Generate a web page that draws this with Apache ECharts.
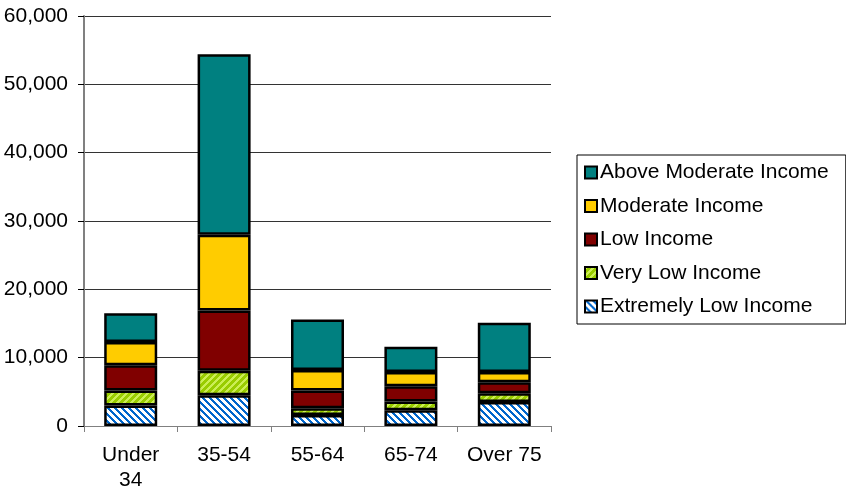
<!DOCTYPE html>
<html>
<head>
<meta charset="utf-8">
<script src="https://cdn.jsdelivr.net/npm/echarts@6/dist/echarts.min.js"></script>
<style>
  html, body { margin: 0; padding: 0; background: #fff; }
  #chart { width: 846px; height: 495px; }
</style>
</head>
<body>
<div id="chart"></div>
<script>
// Households by age of householder and income category
const categories = ['Under\n34', '35-54', '55-64', '65-74', 'Over 75'];
const extremelyLow = [3000, 4500, 1600, 2300, 3500];
const veryLow      = [2200, 3600, 1000, 1300, 1300];
const low          = [3700, 8800, 2600, 2200, 1600];
const moderate     = [3400, 11100, 3000, 2100, 1500];
const aboveModerate = [4200, 26400, 7400, 3700, 7200];
const yTicks = { min: 0, max: 60000, step: 10000 };

const FONT = 'Liberation Sans, Arial, sans-serif';

// Small repeating tile with diagonal stripes; dir 1 = "\", -1 = "/"
function stripeTile(bg, fg, size, width, dir) {
  const c = document.createElement('canvas');
  c.width = size; c.height = size;
  const ctx = c.getContext('2d');
  const img = ctx.createImageData(size, size);
  const parse = h => [parseInt(h.slice(1,3),16), parseInt(h.slice(3,5),16), parseInt(h.slice(5,7),16)];
  const b = parse(bg), f = parse(fg);
  for (let y = 0; y < size; y++) {
    for (let x = 0; x < size; x++) {
      const k = dir > 0 ? ((x - y) % size + size) % size : (x + y) % size;
      const col = k < width ? f : b;
      const i = (y * size + x) * 4;
      img.data[i] = col[0]; img.data[i+1] = col[1]; img.data[i+2] = col[2]; img.data[i+3] = 255;
    }
  }
  ctx.putImageData(img, 0, 0);
  return { image: c, repeat: 'repeat' };
}

const bluePattern = stripeTile('#ffffff', '#0066cc', 7, 3, 1);
const greenPattern = stripeTile('#99cc00', '#ccee55', 7, 3, -1);

const border = { borderColor: '#000000', borderWidth: 2.5 };
function series(name, data, color) {
  return {
    name: name,
    type: 'bar',
    stack: 'total',
    barWidth: 53,
    data: data,
    itemStyle: Object.assign({ color: color }, border),
    emphasis: { disabled: true }
  };
}

const chart = echarts.init(document.getElementById('chart'), null, { renderer: 'canvas' });
chart.setOption({
  animation: false,
  backgroundColor: '#ffffff',
  textStyle: { fontFamily: FONT, color: '#000' },
  grid: { left: 84, right: 295, top: 16, bottom: 69, containLabel: false },
  legend: {
    orient: 'vertical',
    left: 577,
    top: 155,
    padding: [7, 17, 7, 7],
    itemGap: 12.5,
    itemWidth: 12,
    itemHeight: 12,
    icon: 'rect',
    borderColor: '#000',
    borderWidth: 1,
    backgroundColor: '#fff',
    textStyle: { fontSize: 21, color: '#000', fontFamily: FONT, padding: [0, 0, 0, -2] },
    data: ['Above Moderate Income', 'Moderate Income', 'Low Income', 'Very Low Income', 'Extremely Low Income'],
    selectedMode: false
  },
  xAxis: {
    type: 'category',
    data: categories,
    axisLine: { lineStyle: { color: '#808080', width: 1 } },
    axisTick: { show: true, length: 6, lineStyle: { color: '#808080' } },
    axisLabel: { fontSize: 21, color: '#000', margin: 17, lineHeight: 25, interval: 0, fontFamily: FONT }
  },
  yAxis: {
    type: 'value',
    min: yTicks.min,
    max: yTicks.max,
    interval: yTicks.step,
    axisLine: { show: true, lineStyle: { color: '#808080', width: 2 } },
    axisTick: { show: true, length: 6, lineStyle: { color: '#000' } },
    splitLine: { lineStyle: { color: '#333333', width: 1 } },
    axisLabel: {
      fontSize: 21, color: '#000', margin: 16, fontFamily: FONT,
      formatter: v => v.toLocaleString('en-US')
    }
  },
  series: [
    series('Extremely Low Income', extremelyLow, bluePattern),
    series('Very Low Income', veryLow, greenPattern),
    series('Low Income', low, '#800000'),
    series('Moderate Income', moderate, '#ffcc00'),
    series('Above Moderate Income', aboveModerate, '#008080')
  ]
});
</script>
</body>
</html>
